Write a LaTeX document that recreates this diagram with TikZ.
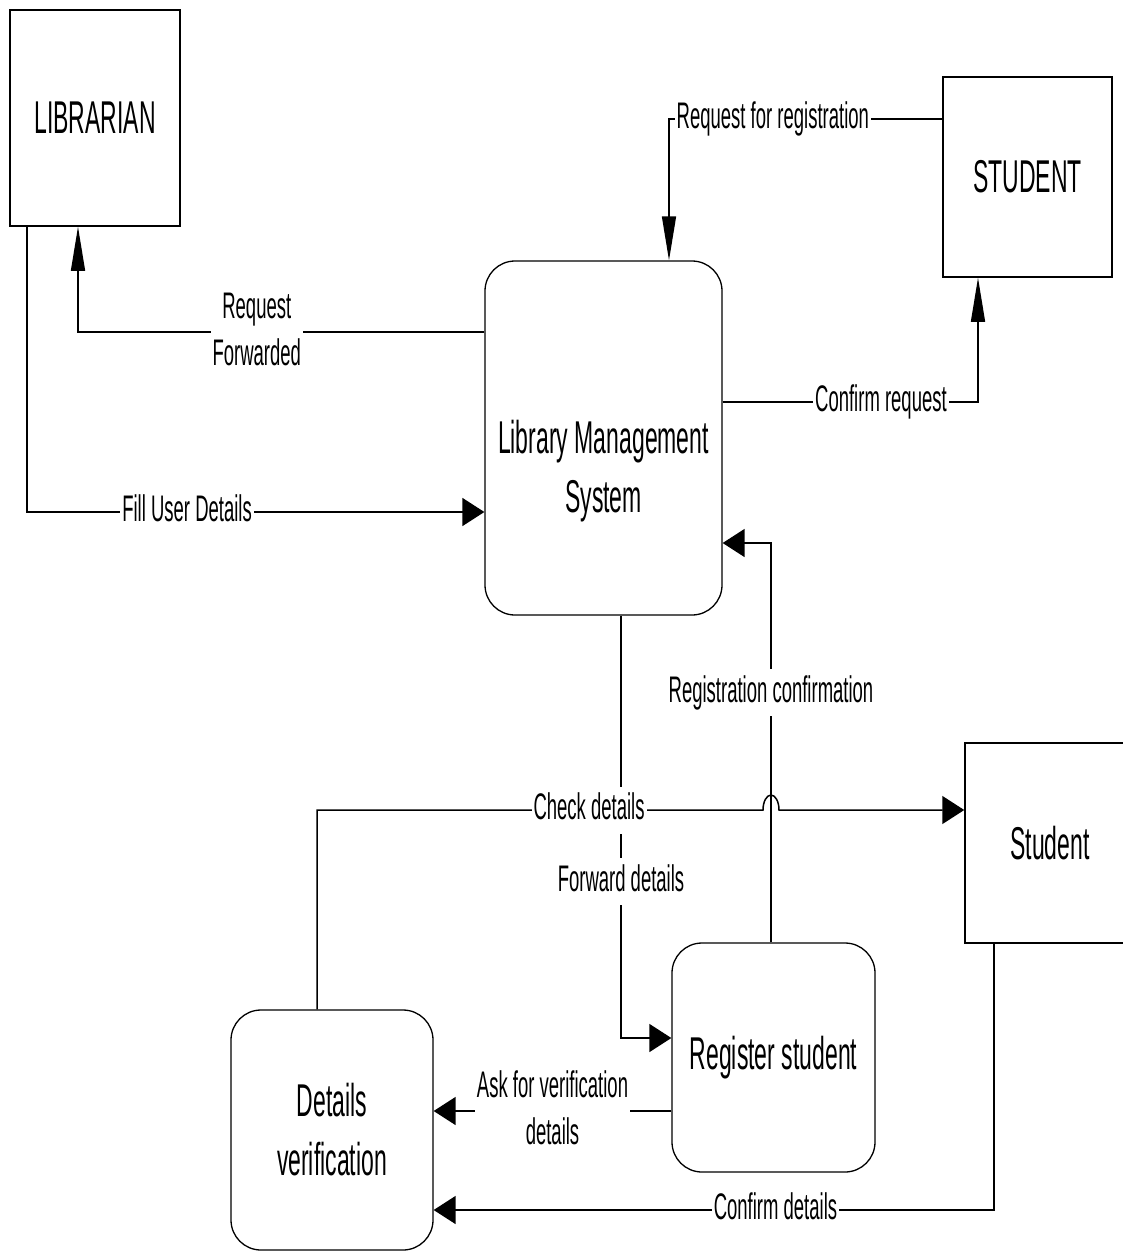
\documentclass[tikz,border=0pt]{standalone}
\usepackage{fontspec}
\setmainfont{Liberation Sans}[FakeStretch=0.5]
\usetikzlibrary{arrows.meta}

\begin{document}
\begin{tikzpicture}[
      x=1pt,y=-1pt,
      entity/.style={draw,line width=1.5pt,minimum width=170pt,minimum height=216pt,
        inner sep=0pt,font=\fontsize{46}{59}\selectfont},
      process/.style={draw,line width=1.3pt,rounded corners=30pt,align=center,
        inner sep=0pt,font=\fontsize{46}{59}\selectfont},
      flow/.style={line width=1.5pt},
      hflow/.style={flow,-{Triangle[length=22pt,width=28pt]}},
      vflow/.style={flow,-{Triangle[length=44pt,width=14pt]}},
      lbl/.style={fill=white,inner xsep=2pt,inner ysep=6pt,text height=27pt,
        text depth=8pt,font=\fontsize{37}{47}\selectfont},
      lbltwo/.style={fill=white,inner xsep=2pt,inner ysep=4pt,align=center,
        yshift=3pt,font=\fontsize{37}{47}\selectfont}
    ]
      \useasboundingbox (0,0) rectangle (1123,1251);
      \node[entity] (librarian) at (95,118) {LIBRARIAN};
      \node[entity,minimum width=169pt,minimum height=200pt] (student) at (1027.5,177) {STUDENT};
      \node[process,minimum width=237pt,minimum height=354pt] (lms) at (603.5,438) {};
      \node[align=center,font=\fontsize{46}{59}\selectfont] (lmslabel) at (603.5,471) {Library Management\\System};
      \node[entity,minimum width=170pt,minimum height=200pt] (studentb) at (1050,843) {Student};
      \node[process,minimum width=203pt,minimum height=229pt] (regst) at (773.5,1057.5) {Register student};
      \node[process,minimum width=202pt,minimum height=240pt] (detver) at (332,1130) {Details\\verification};
      % bends of the data flows
      \coordinate (fwd) at (78,332);
      \coordinate (fill) at (27,512);
      \coordinate (reqr) at (669,119);
      \coordinate (cfr) at (978,402);
      \coordinate (fwdd) at (621,1038);
      \coordinate (rcf) at (771,543);
      \coordinate (chk) at (317,810);
      \coordinate (hop) at (763,810);
      \coordinate (ask) at (553,1111);
      \coordinate (cfd) at (994,1210);
      \draw[vflow] (lms.west |- fwd) -- node[lbltwo,pos=0.56] {Request\\Forwarded} (fwd) -- (librarian.south -| fwd);
      \draw[hflow] (librarian.south -| fill) -- (fill) -- node[lbl,pos=0.35] {Fill User Details} (lms.west |- fill);
      \draw[vflow] (student.west |- reqr) -- node[lbl,pos=0.62] {Request for registration} (reqr) -- (lms.north -| reqr);
      \draw[vflow] (lms.east |- cfr) -- node[lbl,pos=0.62] {Confirm request} (cfr) -- (student.south -| cfr);
      \draw[hflow] (lms.south -| fwdd) -- node[lbl,pos=0.63] {Forward details} (fwdd) -- (regst.west |- fwdd);
      \draw[hflow] (regst.north -| rcf) -- node[lbl,pos=0.625] {Registration confirmation} (rcf) -- (lms.east |- rcf);
      \draw[hflow] (detver.north -| chk) -- (chk) -- node[lbl,pos=0.61] {Check details} (hop)
        arc[start angle=180,end angle=0,x radius=8pt,y radius=15pt] -- (studentb.west |- chk);
      \draw[hflow] (regst.west |- ask) -- node[lbltwo] {Ask for verification\\details} (detver.east |- ask);
      \draw[hflow] (studentb.south -| cfd) -- (cfd) -- node[lbl,pos=0.39] {Confirm details} (detver.east |- cfd);
    \end{tikzpicture}
\end{document}
